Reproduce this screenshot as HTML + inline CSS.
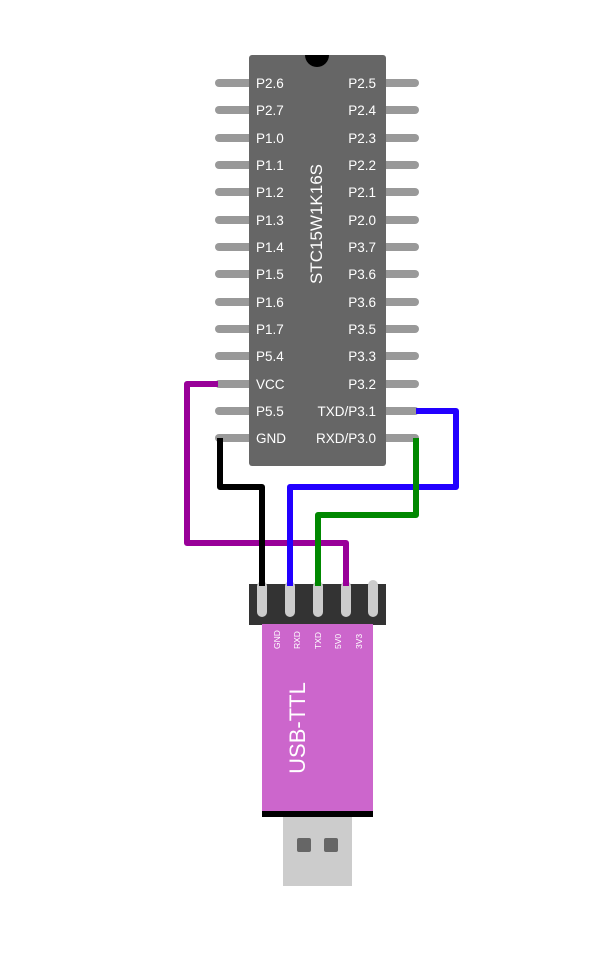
<!DOCTYPE html>
<html><head><style>body{margin:0;background:#fff}</style></head><body>
<svg width="612" height="961" viewBox="0 0 612 961" xmlns="http://www.w3.org/2000/svg" font-family="Liberation Sans, DejaVu Sans, sans-serif">
<g stroke="#999" stroke-width="8" stroke-linecap="round">
<line x1="219" y1="83" x2="255" y2="83"/><line x1="219" y1="110" x2="255" y2="110"/><line x1="219" y1="138" x2="255" y2="138"/><line x1="219" y1="165" x2="255" y2="165"/><line x1="219" y1="192" x2="255" y2="192"/><line x1="219" y1="220" x2="255" y2="220"/><line x1="219" y1="247" x2="255" y2="247"/><line x1="219" y1="274" x2="255" y2="274"/><line x1="219" y1="302" x2="255" y2="302"/><line x1="219" y1="329" x2="255" y2="329"/><line x1="219" y1="356" x2="255" y2="356"/><line x1="219" y1="384" x2="255" y2="384"/><line x1="219" y1="411" x2="255" y2="411"/><line x1="219" y1="438" x2="255" y2="438"/>
<line x1="380" y1="83" x2="415" y2="83"/><line x1="380" y1="110" x2="415" y2="110"/><line x1="380" y1="138" x2="415" y2="138"/><line x1="380" y1="165" x2="415" y2="165"/><line x1="380" y1="192" x2="415" y2="192"/><line x1="380" y1="220" x2="415" y2="220"/><line x1="380" y1="247" x2="415" y2="247"/><line x1="380" y1="274" x2="415" y2="274"/><line x1="380" y1="302" x2="415" y2="302"/><line x1="380" y1="329" x2="415" y2="329"/><line x1="380" y1="356" x2="415" y2="356"/><line x1="380" y1="384" x2="415" y2="384"/><line x1="380" y1="411" x2="415" y2="411"/><line x1="380" y1="438" x2="415" y2="438"/>
</g>
<rect x="249" y="55" width="137" height="411" rx="3" fill="#666"/>
<circle cx="317" cy="55" r="12" fill="#000"/>
<rect x="305" y="40" width="24" height="15" fill="#fff"/>
<g fill="#fff" font-size="13.5">
<text x="256" y="88">P2.6</text><text x="256" y="115">P2.7</text><text x="256" y="143">P1.0</text><text x="256" y="170">P1.1</text><text x="256" y="197">P1.2</text><text x="256" y="225">P1.3</text><text x="256" y="252">P1.4</text><text x="256" y="279">P1.5</text><text x="256" y="307">P1.6</text><text x="256" y="334">P1.7</text><text x="256" y="361">P5.4</text><text x="256" y="389">VCC</text><text x="256" y="416">P5.5</text><text x="256" y="443">GND</text>
<g text-anchor="end"><text x="376" y="88">P2.5</text><text x="376" y="115">P2.4</text><text x="376" y="143">P2.3</text><text x="376" y="170">P2.2</text><text x="376" y="197">P2.1</text><text x="376" y="225">P2.0</text><text x="376" y="252">P3.7</text><text x="376" y="279">P3.6</text><text x="376" y="307">P3.6</text><text x="376" y="334">P3.5</text><text x="376" y="361">P3.3</text><text x="376" y="389">P3.2</text><text x="376" y="416">TXD/P3.1</text><text x="376" y="443">RXD/P3.0</text></g>
<text transform="translate(322,224) rotate(-90)" text-anchor="middle" font-size="17">STC15W1K16S</text>
</g>
<rect x="249" y="584" width="137" height="41" fill="#333"/>
<g stroke="#ccc" stroke-width="10" stroke-linecap="round">
<line x1="262" y1="586" x2="262" y2="612"/><line x1="290" y1="586" x2="290" y2="612"/><line x1="318" y1="586" x2="318" y2="612"/><line x1="346" y1="586" x2="346" y2="612"/><line x1="373" y1="585" x2="373" y2="612"/></g>
<g fill="none" stroke-width="6" stroke-linejoin="round">
<polyline points="218,384 187,384 187,543 346,543 346,586" stroke="#909"/>
<polyline points="220,438 220,487 262,487 262,586" stroke="#000"/>
<polyline points="416,411 456,411 456,487 290,487 290,586" stroke="#20f"/>
<polyline points="416,438 416,515 318,515 318,586" stroke="#080"/>
</g>
<rect x="262" y="624" width="111" height="188" fill="#cc66cc"/>
<rect x="262" y="811" width="111" height="6" fill="#000"/>
<rect x="283" y="817" width="69" height="69" fill="#ccc"/>
<rect x="297" y="838" width="14" height="14" rx="2" fill="#666"/><rect x="324" y="838" width="14" height="14" rx="2" fill="#666"/>
<g fill="#fff" font-size="8.5" text-anchor="start">
<text transform="translate(280,649) rotate(-90)">GND</text><text transform="translate(300,649) rotate(-90)">RXD</text><text transform="translate(321,649) rotate(-90)">TXD</text><text transform="translate(341,649) rotate(-90)">5V0</text><text transform="translate(362,649) rotate(-90)">3V3</text>
<text transform="translate(305,728) rotate(-90)" text-anchor="middle" font-size="22">USB-TTL</text>
</g>
</svg>
</body></html>
